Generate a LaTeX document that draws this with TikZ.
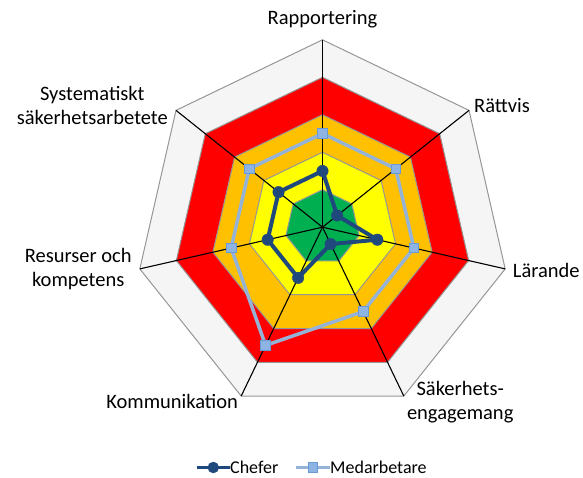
\documentclass[tikz,border=0pt]{standalone}
\usepackage{fontspec}
\setmainfont{Carlito}
\usetikzlibrary{positioning}
\definecolor{aussen}{RGB}{245,245,245}
\definecolor{rot}{RGB}{255,0,0}
\definecolor{bandorange}{RGB}{255,192,0}
\definecolor{gelb}{RGB}{255,255,0}
\definecolor{gruen}{RGB}{0,176,80}
\definecolor{grenzgrau}{RGB}{150,150,150}
\definecolor{chefblau}{RGB}{31,73,125}
\definecolor{medhell}{RGB}{149,179,215}
\definecolor{medfill}{RGB}{141,180,226}
\definecolor{medrand}{RGB}{106,154,212}
\tikzset{
	band/.style={
		draw=grenzgrau, 
		line width=1pt},
	achse/.style={draw=black, line width=1.1pt},
	chefline/.style={draw=chefblau, line width=4pt, line join=round},
	chefdot/.style={
		circle, 
		fill=chefblau, 
		draw=chefblau,
		minimum size=11.5pt, 
		inner sep=0pt},
	medline/.style={draw=medhell, line width=3.5pt, line join=round},
	medbox/.style={
		rectangle, 
		% fill=medhell,
		fill=medfill, 
		draw=medrand, line width=0.8pt,
		minimum size=9.5pt, 
		inner sep=0pt},
	etikett/.style={inner sep=0pt, align=center, font=\fontsize{20.5}{24}\selectfont},
	legtext/.style={inner sep=0pt, anchor=west, font=\fontsize{18}{22}\selectfont},
}

\begin{document}
\begin{tikzpicture}
			[x=1pt, y=1pt]
			\useasboundingbox (0,0) rectangle (583,477);
			\begin{scope}[shift={(322.5,249.8)}, x=37.48pt, y=37.48pt]
			% Baender von aussen nach innen
			\foreach \r/\farbe in {5/aussen,4/rot,3/bandorange,2/gelb,1/gruen}
				\draw[band, fill=\farbe] (90:\r) \foreach \k in {1,...,6}{ -- ({90-\k*360/7}:\r)} -- cycle;
			\coordinate (mitte) at (0,0);
			\foreach \k in {0,...,6} {
				\coordinate (v\k) at ({90-\k*360/7}:5);
				\draw[achse] (mitte) -- (v\k);
			}
			% Medarbetare
			\foreach \w [count=\k from 0] in {2.5,2.5,2.5,2.5,3.5,2.5,2.5}
				\coordinate (m\k) at ({90-\k*360/7}:\w);
			\draw[medline] (m0) -- (m1) -- (m2) -- (m3) -- (m4) -- (m5) -- (m6) -- cycle;
			\foreach \k in {0,...,6}
				\node[medbox] (mb\k) at (m\k) {};
			% Chefer
			\foreach \w [count=\k from 0] in {1.5,0.5,1.5,0.5,1.5,1.5,1.5}
				\coordinate (c\k) at ({90-\k*360/7}:\w);
			\draw[chefline] (c0) -- (c1) -- (c2) -- (c3) -- (c4) -- (c5) -- (c6) -- cycle;
			\foreach \k in {0,...,6}
				\node[chefdot] (cd\k) at (c\k) {};
			\end{scope}
			
			\node[etikett, above=11.5pt of v0] (rapp) {Rapportering};
			\node[etikett, right=5pt of v1, yshift=4.4pt] (raett) {Rättvis};
			\node[etikett, right=7.5pt of v2, yshift=-1.8pt] (laer) {Lärande};
			\node[etikett, right=3pt of v3, yshift=-6pt] (saek) {Säkerhets-\\engagemang};
			\node[etikett, left=3pt of v4, yshift=-5.7pt] (komm) {Kommunikation};
			\node[etikett, left=8pt of v5] (ress) {Resurser och\\kompetens};
			\node[etikett, left=8pt of v6, yshift=5pt] (syst) {Systematiskt\\säkerhetsarbetete};
			
			% Legende
			\coordinate (lc1) at (196.7,9.5);
			\coordinate (lc2) at (230,9.5);
			\draw[chefline, line width=3.5pt] (lc1) -- (lc2);
			\node[chefdot, minimum size=11pt] (lcd) at (213.3,9.5) {};
			\node[legtext] (lct) at (lc2) {Chefer};
			\coordinate (lm1) at (296,9.5);
			\coordinate (lm2) at (330,9.5);
			\draw[medline] (lm1) -- (lm2);
			\node[medbox] (lmb) at (313,9.5) {};
			\node[legtext] (lmt) at (lm2) {Medarbetare};
\end{tikzpicture}
\end{document}
